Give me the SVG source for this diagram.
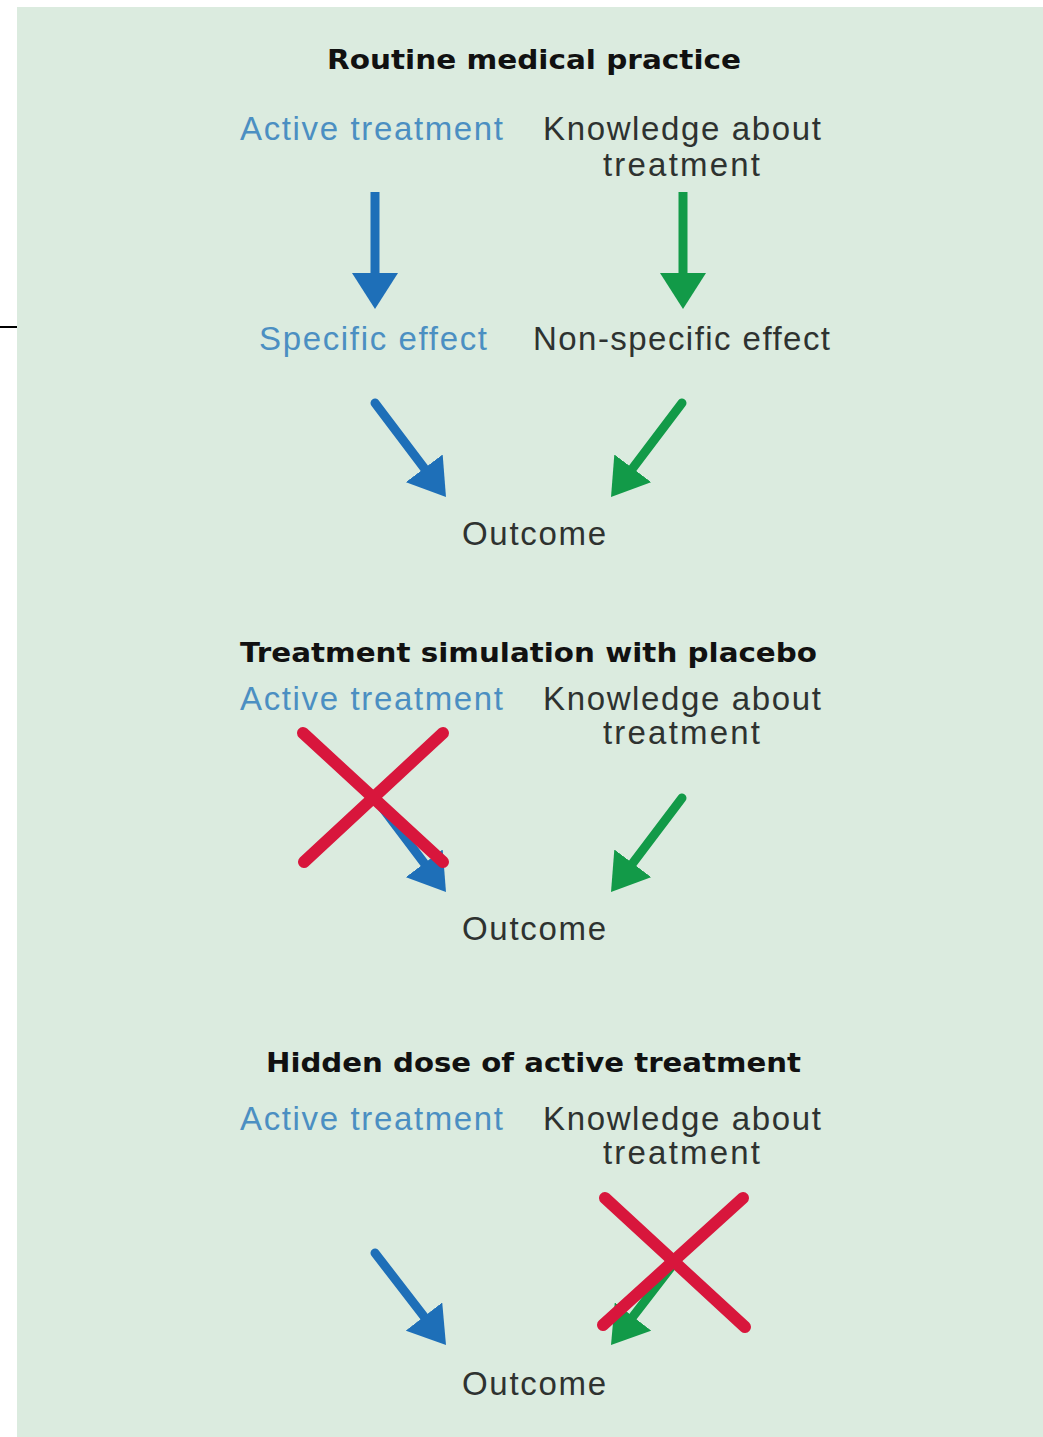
<svg xmlns="http://www.w3.org/2000/svg" width="1043" height="1437" viewBox="0 0 1043 1437">
<style>
.bg{fill:#dbebdf}
.t{font-family:"Liberation Sans",Arial,sans-serif;font-size:33px;fill:#2e3230}
.b{fill:#4b8fc2}
.h{font-family:"DejaVu Sans","Liberation Sans",sans-serif;font-size:27px;font-weight:bold;fill:#111}
.ab{stroke:#1e6fb8;stroke-width:9;fill:none}
.ag{stroke:#129a48;stroke-width:9;fill:none}
.x{stroke:#d8163c;stroke-width:12;stroke-linecap:round;fill:none}
</style>
<defs>
<marker id="hb" viewBox="0 0 36 46" refX="0" refY="23" markerUnits="userSpaceOnUse" markerWidth="36" markerHeight="46" orient="auto"><path d="M0,0 L36,23 L0,46 z" fill="#1e6fb8"/></marker>
<marker id="hg" viewBox="0 0 36 46" refX="0" refY="23" markerUnits="userSpaceOnUse" markerWidth="36" markerHeight="46" orient="auto"><path d="M0,0 L36,23 L0,46 z" fill="#129a48"/></marker>
</defs>
<rect class="bg" x="17" y="7" width="1026" height="1430"/>
<line x1="0" y1="327" x2="17" y2="327" stroke="#000" stroke-width="2"/>

<g id="s1">
<g id="title1"><text class="h" x="327" y="69" textLength="414" lengthAdjust="spacingAndGlyphs">Routine medical practice</text></g>
<g id="active1"><text class="t b" x="240" y="140" textLength="263" lengthAdjust="spacing">Active treatment</text></g>
<g id="knowledge1"><text class="t" x="543" y="140" textLength="278" lengthAdjust="spacing">Knowledge about</text><text class="t" x="603" y="176" textLength="157" lengthAdjust="spacing">treatment</text></g>
<g id="specific1"><text class="t b" x="259" y="350" textLength="228" lengthAdjust="spacing">Specific effect</text></g>
<g id="nonspecific1"><text class="t" x="533" y="350" textLength="297" lengthAdjust="spacing">Non-specific effect</text></g>
<g id="outcome1"><text class="t" x="462" y="545" textLength="144" lengthAdjust="spacing">Outcome</text></g>
</g>

<g id="s2">
<g id="title2"><text class="h" x="240" y="662" textLength="577" lengthAdjust="spacingAndGlyphs">Treatment simulation with placebo</text></g>
<g id="active2"><text class="t b" x="240" y="710" textLength="263" lengthAdjust="spacing">Active treatment</text></g>
<g id="knowledge2"><text class="t" x="543" y="710" textLength="278" lengthAdjust="spacing">Knowledge about</text><text class="t" x="603" y="744" textLength="157" lengthAdjust="spacing">treatment</text></g>
<g id="outcome2"><text class="t" x="462" y="940" textLength="144" lengthAdjust="spacing">Outcome</text></g>
</g>

<g id="s3">
<g id="title3"><text class="h" x="266" y="1072" textLength="535" lengthAdjust="spacingAndGlyphs">Hidden dose of active treatment</text></g>
<g id="active3"><text class="t b" x="240" y="1130" textLength="263" lengthAdjust="spacing">Active treatment</text></g>
<g id="knowledge3"><text class="t" x="543" y="1130" textLength="278" lengthAdjust="spacing">Knowledge about</text><text class="t" x="603" y="1164" textLength="157" lengthAdjust="spacing">treatment</text></g>
<g id="outcome3"><text class="t" x="462" y="1395" textLength="144" lengthAdjust="spacing">Outcome</text></g>
</g>

<g id="connectors">
<line class="ab" x1="375" y1="192" x2="375" y2="273" marker-end="url(#hb)"/>
<line class="ag" x1="683" y1="192" x2="683" y2="273" marker-end="url(#hg)"/>
<line class="ab" x1="375" y1="403" x2="424.3" y2="468.3" stroke-linecap="round" marker-end="url(#hb)"/>
<line class="ag" x1="682" y1="403" x2="632.7" y2="468.3" stroke-linecap="round" marker-end="url(#hg)"/>
<line class="ab" x1="375" y1="798" x2="424.3" y2="863.3" stroke-linecap="round" marker-end="url(#hb)"/>
<line class="ag" x1="682" y1="798" x2="632.7" y2="863.3" stroke-linecap="round" marker-end="url(#hg)"/>
<line class="ab" x1="375" y1="1253" x2="424" y2="1316.5" stroke-linecap="round" marker-end="url(#hb)"/>
<line class="ag" x1="682" y1="1253" x2="633" y2="1316.5" stroke-linecap="round" marker-end="url(#hg)"/>
</g>

<g id="cross2">
<line class="x" x1="303" y1="733" x2="443" y2="862"/>
<line class="x" x1="443" y1="733" x2="304" y2="862"/>
</g>
<g id="cross3">
<line class="x" x1="605" y1="1198" x2="745" y2="1327"/>
<line class="x" x1="743" y1="1198" x2="603" y2="1325"/>
</g>
</svg>
